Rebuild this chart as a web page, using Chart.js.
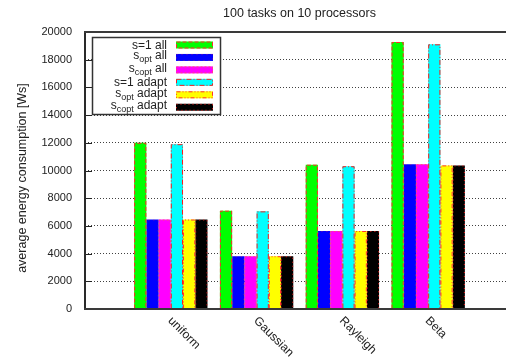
<!DOCTYPE html>
<html>
<head>
<meta charset="utf-8">
<script src="https://cdn.jsdelivr.net/npm/chart.js@4/dist/chart.umd.min.js"></script>
<style>
  html, body { margin: 0; padding: 0; background: #fff; }
  #wrap { width: 506px; height: 358px; }
</style>
</head>
<body>
<div id="wrap"><canvas id="c" width="506" height="358"></canvas></div>
<script>
// Distributions on the x axis
const categories = ['uniform', 'Gaussian', 'Rayleigh', 'Beta'];

// Average energy consumption [Ws] per strategy
const s1All      = [12000, 7100, 10420, 19280];
const sOptAll    = [6460, 3810, 5630, 10460];
const sCoptAll   = [6460, 3810, 5630, 10460];
const s1Adapt    = [11900, 7050, 10310, 19110];
const sOptAdapt  = [6460, 3810, 5630, 10370];
const sCoptAdapt = [6460, 3810, 5630, 10370];

// Y axis ticks
const yTicks = [0, 2000, 4000, 6000, 8000, 10000, 12000, 14000, 16000, 18000, 20000];

// Legend labels: base text, subscript, tail
const legendBase = ['s=1', 's', 's', 's=1', 's', 's'];
const legendSub  = ['', 'opt', 'copt', '', 'opt', 'copt'];
const legendTail = [' all', ' all', ' all', ' adapt', ' adapt', ' adapt'];

const fills  = ['#00ff00', '#0000ff', '#ff00ff', '#00ffff', '#ffff00', '#000000'];
const dashes = [[4, 2], [1, 4], [2, 2], [5, 2, 1, 2], [4, 2, 1, 2, 1, 2], [1, 3]];
const edgeColors = ['#ff2a2a', 'rgba(255,40,40,0.5)', 'rgba(255,90,90,0.8)', '#ff1a1a', '#ff3333', '#ff2020'];
const seriesValues = [s1All, sOptAll, sCoptAll, s1Adapt, sOptAdapt, sCoptAdapt];

const FONT = "'Liberation Sans', Arial, Helvetica, sans-serif";
const INK = '#222';

const datasets = seriesValues.map((vals, k) => ({
  label: legendBase[k] + (legendSub[k] ? '_' + legendSub[k] : '') + legendTail[k],
  data: vals.map((v, i) => ({ x: i, y: v })),
  backgroundColor: fills[k],
  borderWidth: 0,
  categoryPercentage: 0.855,
  barPercentage: 1.0
}));

// Dashed red outlines around each bar, from the bar elements' geometry
const barOutline = {
  id: 'barOutline',
  afterDatasetsDraw(chart) {
    const ctx = chart.ctx;
    chart.data.datasets.forEach((ds, k) => {
      const meta = chart.getDatasetMeta(k);
      meta.data.forEach(el => {
        const p = el.getProps(['x', 'y', 'base', 'width'], true);
        const l = p.x - p.width / 2, r = p.x + p.width / 2;
        ctx.save();
        ctx.strokeStyle = edgeColors[k];
        ctx.lineWidth = 1;
        ctx.setLineDash(dashes[k]);
        ctx.beginPath();
        ctx.moveTo(l + 0.5, p.base);
        ctx.lineTo(l + 0.5, p.y + 0.5);
        ctx.lineTo(r - 0.5, p.y + 0.5);
        ctx.lineTo(r - 0.5, p.base);
        ctx.stroke();
        ctx.restore();
      });
    });
  }
};

// Frame, titles, rotated category labels and the key box
const decorations = {
  id: 'decorations',
  afterDraw(chart) {
    const ctx = chart.ctx;
    const a = chart.chartArea;
    const xs = chart.scales.x, ys = chart.scales.y;

    ctx.save();
    // inward tick stubs on the left axis
    ctx.strokeStyle = INK;
    ctx.lineWidth = 1;
    yTicks.forEach(v => {
      const y = Math.round(ys.getPixelForValue(v)) + 0.5;
      ctx.beginPath();
      ctx.moveTo(a.left, y);
      ctx.lineTo(a.left + 7, y);
      ctx.stroke();
    });

    // plot border: left, top, bottom
    ctx.lineWidth = 2;
    ctx.strokeStyle = '#2a2a2a';
    ctx.beginPath();
    ctx.moveTo(a.left, a.top);
    ctx.lineTo(a.left, a.bottom);
    ctx.stroke();
    ctx.strokeStyle = '#3a3a3a';
    ctx.beginPath();
    ctx.moveTo(a.left - 1, a.top);
    ctx.lineTo(a.right, a.top);
    ctx.moveTo(a.left - 1, a.bottom);
    ctx.lineTo(a.right, a.bottom);
    ctx.stroke();

    // chart title
    ctx.fillStyle = INK;
    ctx.font = '12.5px ' + FONT;
    ctx.textAlign = 'center';
    ctx.textBaseline = 'middle';
    ctx.fillText('100 tasks on 10 processors', 299.5, 14);

    // y axis title
    ctx.save();
    ctx.translate(23, 178);
    ctx.rotate(-Math.PI / 2);
    ctx.font = '12.5px ' + FONT;
    ctx.fillText('average energy consumption [Ws]', 0, 0);
    ctx.restore();

    // rotated category labels
    ctx.font = '12px ' + FONT;
    ctx.textAlign = 'left';
    ctx.textBaseline = 'middle';
    categories.forEach((c, i) => {
      const x = xs.getPixelForValue(i);
      ctx.save();
      ctx.translate(x - 1, a.bottom + 10);
      ctx.rotate(Math.PI / 4);
      ctx.fillText(c, 0, 0);
      ctx.restore();
    });

    // key box
    const bx = 92, by = 37, bw = 128, bh = 77;
    ctx.fillStyle = '#fff';
    ctx.fillRect(bx, by, bw, bh);
    ctx.strokeStyle = '#333';
    ctx.lineWidth = 1.5;
    ctx.setLineDash([]);
    ctx.strokeRect(bx + 0.5, by + 0.5, bw, bh);

    const textRight = 167;
    const rowH = 12.45;
    for (let k = 0; k < 6; k++) {
      const cy = by + 8 + k * rowH;
      // sample swatch
      const sx = 176, sw = 37, sh = 7;
      ctx.fillStyle = fills[k];
      ctx.fillRect(sx, cy - sh / 2, sw, sh);
      ctx.save();
      ctx.strokeStyle = edgeColors[k];
      ctx.lineWidth = 1;
      ctx.setLineDash(dashes[k]);
      ctx.strokeRect(sx + 0.5, cy - sh / 2 + 0.5, sw - 1, sh - 1);
      ctx.restore();

      // label text, right aligned, with optional subscript
      ctx.fillStyle = INK;
      ctx.textBaseline = 'alphabetic';
      ctx.textAlign = 'left';
      const mainFont = '12px ' + FONT, subFont = '9px ' + FONT;
      ctx.font = mainFont;
      const wBase = ctx.measureText(legendBase[k]).width;
      const wTail = ctx.measureText(legendTail[k]).width;
      ctx.font = subFont;
      const wSub = legendSub[k] ? ctx.measureText(legendSub[k]).width : 0;
      let x0 = textRight - (wBase + wSub + wTail);
      const base = cy + 4;
      const mainBase = legendSub[k] ? base - 2 : base;
      ctx.font = mainFont;
      ctx.fillText(legendBase[k], x0, mainBase);
      x0 += wBase;
      if (legendSub[k]) {
        ctx.font = subFont;
        ctx.fillText(legendSub[k], x0, mainBase + 3);
        x0 += wSub;
      }
      ctx.font = mainFont;
      ctx.fillText(legendTail[k], x0, mainBase);
    }
    ctx.restore();
  }
};

new Chart(document.getElementById('c'), {
  type: 'bar',
  data: { datasets },
  options: {
    responsive: false,
    devicePixelRatio: 1,
    animation: false,
    layout: { padding: { top: 32, left: 0, right: 0, bottom: 0 } },
    plugins: {
      legend: { display: false },
      title: { display: false },
      tooltip: { enabled: true }
    },
    scales: {
      x: {
        type: 'linear',
        offset: false,
        min: -1,
        max: 3.907,
        grid: { display: false, drawTicks: false, offset: false },
        border: { display: false },
        ticks: { display: false },
        afterBuildTicks(scale) {
          scale.ticks = categories.map((_, i) => ({ value: i }));
        },
        afterFit(scale) { scale.height = 49; }
      },
      y: {
        min: 0,
        max: 20000,
        afterBuildTicks(scale) {
          scale.ticks = yTicks.map(v => ({ value: v }));
        },
        ticks: {
          padding: 13,
          color: INK,
          font: { family: FONT, size: 11 },
          callback: v => String(v)
        },
        grid: {
          drawTicks: false,
          color: 'rgba(0,0,0,0.75)',
          lineWidth: 1
        },
        border: { display: false, dash: [1, 2] },
        afterFit(scale) { scale.width = 85; }
      }
    }
  },
  plugins: [barOutline, decorations]
});
</script>
</body>
</html>
